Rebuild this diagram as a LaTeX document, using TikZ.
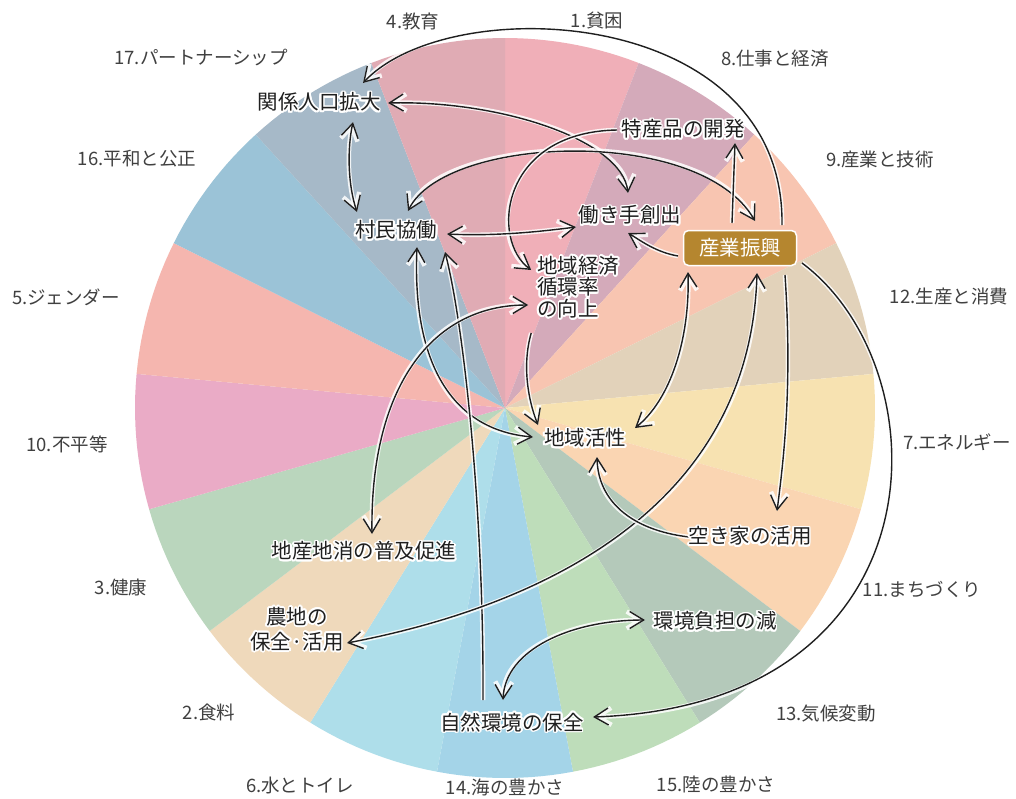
\documentclass[tikz,border=0pt]{standalone}
\usepackage{fontspec}
\setmainfont{Noto Sans CJK JP}
\usepackage{contour}
\contourlength{1.7pt}
\contournumber{16}
\usetikzlibrary{arrows.meta,calc}
\pgfdeclarelayer{bg}
\pgfdeclarelayer{arr}
\pgfsetlayers{bg,arr,main}
\definecolor{c1}{HTML}{F0AFB8}
\definecolor{c8}{HTML}{D4AABA}
\definecolor{c9}{HTML}{F8C5B1}
\definecolor{c12}{HTML}{E2D2BA}
\definecolor{c7}{HTML}{F7E2B1}
\definecolor{c11}{HTML}{FAD5B2}
\definecolor{c13}{HTML}{B4C9BA}
\definecolor{c15}{HTML}{BEDDBA}
\definecolor{c14}{HTML}{A4D4E8}
\definecolor{c6}{HTML}{AEDEEA}
\definecolor{c2}{HTML}{EFD9BB}
\definecolor{c3}{HTML}{BAD6BD}
\definecolor{c10}{HTML}{EAABC6}
\definecolor{c5}{HTML}{F5B6AF}
\definecolor{c16}{HTML}{9BC3D7}
\definecolor{c17}{HTML}{A6B9C8}
\definecolor{c4}{HTML}{E0ABB4}
\definecolor{boxbrown}{HTML}{B5862F}
\definecolor{lblgray}{HTML}{404040}
\newcommand{\hl}[1]{\contour{white}{#1}}
\begin{document}
\begin{tikzpicture}[x=1pt,y=-1pt,
  lbl/.style={text=lblgray, font=\fontsize{18.5}{20}\selectfont, inner sep=0pt},
  itm/.style={text=black!88, font=\fontsize{20.5}{21.5}\selectfont, inner sep=2pt},
  conn/.style={draw=black!88, line width=1.4pt, preaction={draw=white, line width=4.5pt, opacity=.85}},
  tipb/.tip={Straight Barb[length=14pt,width=17pt]},
  arr/.style={conn, -tipb},
  darr/.style={conn, tipb-tipb}]
\useasboundingbox (0,0) rectangle (1016,798);
\begin{pgfonlayer}{bg}
\fill[white] (0,0) rectangle (1016,798);
\foreach \c [count=\k from 0] in {c1,c8,c9,c12,c7,c11,c13,c15,c14,c6,c2,c3,c10,c5,c16,c17,c4} {
  \pgfmathsetmacro\a{-90+\k*360/17}
  \pgfmathsetmacro\b{-90+(\k+1)*360/17}
  \fill[\c] (505,408) -- plot[domain=\a:\b, samples=14] ({505+370*cos(\x)},{408+370*sin(\x)}) -- cycle;
}
\end{pgfonlayer}
% outer labels
\node[lbl] (l4) at (413,21) {4.教育};
\node[lbl] (l1) at (597,21) {1.貧困};
\node[lbl] (l8) at (775,59) {8.仕事と経済};
\node[lbl] (l17) at (201,58) {17.パートナーシップ};
\node[lbl] (l16) at (137,159) {16.平和と公正};
\node[lbl] (l9) at (880,159) {9.産業と技術};
\node[lbl] (l12) at (949,296) {12.生産と消費};
\node[lbl] (l5) at (66,297) {5.ジェンダー};
\node[lbl] (l10) at (67,444) {10.不平等};
\node[lbl] (l7) at (957,442) {7.エネルギー};
\node[lbl] (l11) at (922,589) {11.まちづくり};
\node[lbl] (l3) at (121,587) {3.健康};
\node[lbl] (l2) at (209,712) {2.食料};
\node[lbl] (l13) at (826,714) {13.気候変動};
\node[lbl] (l6) at (300,785) {6.水とトイレ};
\node[lbl] (l14) at (505,787) {14.海の豊かさ};
\node[lbl] (l15) at (716,784) {15.陸の豊かさ};
% inner items
\node[itm] (guan) at (319,103) {\hl{関係人口拡大}};
\node[itm] (tokusan) at (683,130) {\hl{特産品の開発}};
\node[itm] (sonmin) at (396,231) {\hl{村民協働}};
\node[itm] (hataraki) at (630,216) {\hl{働き手創出}};
\node[itm, fill=boxbrown, draw=white, line width=1.5pt, rounded corners=5pt,
      minimum width=113pt, minimum height=35pt, text=white] (sangyo) at (740,248) {産業振興};
\node[itm, align=left, anchor=west] (keizai) at (535,288) {\hl{地域経済}\\\hl{循環率}\\\hl{の向上}};
\node[itm] (kassei) at (585,439) {\hl{地域活性}};
\node[itm] (akiya) at (750,537) {\hl{空き家の活用}};
\node[itm] (chisan) at (364,552) {\hl{地産地消の普及促進}};
\node[itm, align=center, font=\fontsize{20.5}{25}\selectfont] (nochi) at (297,630) {\hl{農地の}\\\hl{保全·活用}};
\node[itm] (kankyo) at (715,622) {\hl{環境負担の減}};
\node[itm] (shizen) at (512,723) {\hl{自然環境の保全}};
% connectors
\begin{pgfonlayer}{arr}
\draw[arr] ($(sangyo)+(42,-23)$) .. controls (785,5) and (450,-10) .. ($(guan)+(44,-20)$);
\draw[darr] ($(guan)+(69,0)$) .. controls (500,100) and (622,140) .. ($(hataraki)+(-2,-23)$);
\draw[darr] ($(sonmin)+(12,-20)$) .. controls (445,135) and (700,125) .. ($(sangyo)+(15,-27)$);
\draw[arr] ($(tokusan)+(-66,0)$) .. controls (500,132) and (490,240) .. ($(keizai)+(-47,-18)$);
\draw[darr] ($(guan)+(34,19)$) .. controls (347,150) and (348,185) .. ($(sonmin)+(-39,-19)$);
\draw[darr] ($(sonmin)+(51,3)$) .. controls (490,236) and (530,233) .. ($(hataraki)+(-54,11)$);
\draw[arr] ($(sangyo)+(-8,-25)$) -- ($(tokusan)+(52,13)$);
\draw[arr] ($(sangyo)+(-62,8)$) .. controls (655,252) and (640,240) .. ($(hataraki)+(-2,17)$);
\draw[darr] ($(sonmin)+(21,16)$) .. controls (412,360) and (450,430) .. ($(kassei)+(-52,-2)$);
\draw[arr] ($(shizen)+(-29,-23)$) .. controls (484,520) and (465,330) .. ($(sonmin)+(49,21)$);
\draw[darr] ($(keizai)+(-50,17)$) .. controls (430,305) and (370,390) .. ($(chisan)+(8,-18)$);
\draw[arr] ($(keizai)+(-47,45)$) .. controls (522,365) and (528,400) .. ($(kassei)+(-47,-14)$);
\draw[darr] ($(sangyo)+(-52,24)$) .. controls (690,340) and (670,400) .. ($(kassei)+(50,-11)$);
\draw[darr] ($(sangyo)+(17,25)$) .. controls (750,520) and (520,610) .. ($(nochi)+(50,13)$);
\draw[arr] ($(sangyo)+(45,27)$) .. controls (792,380) and (785,450) .. ($(akiya)+(27,-26)$);
\draw[arr] ($(sangyo)+(62,15)$) .. controls (945,370) and (945,705) .. ($(shizen)+(81,-6)$);
\draw[arr] ($(akiya)+(-61,0)$) .. controls (630,530) and (598,500) .. ($(kassei)+(12,18)$);
\draw[darr] ($(kankyo)+(-70,-2)$) .. controls (570,620) and (505,650) .. ($(shizen)+(-9,-23)$);
\end{pgfonlayer}
\end{tikzpicture}
\end{document}
